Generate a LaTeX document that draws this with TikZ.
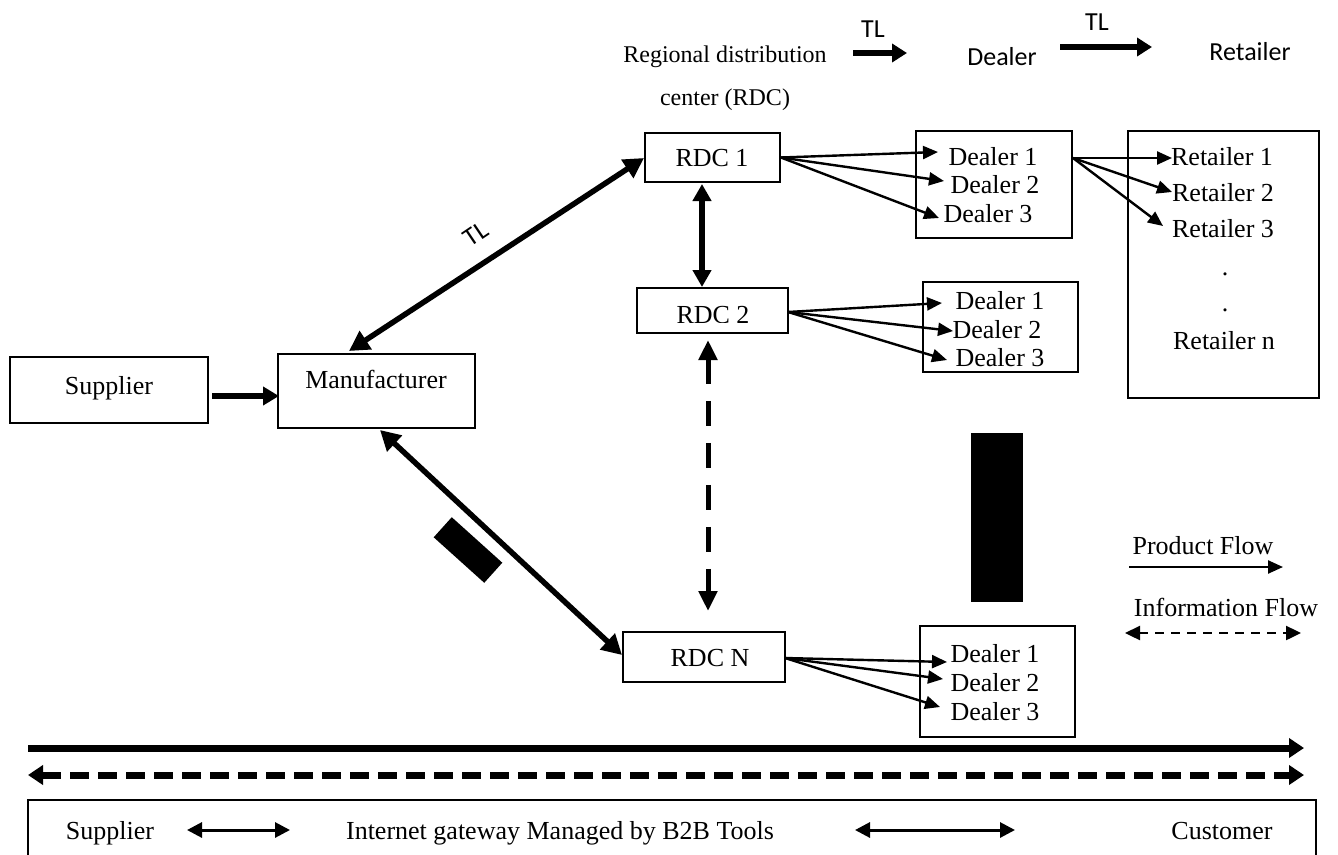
\documentclass[tikz,border=0pt]{standalone}
\usepackage{fontspec}
\setmainfont{Liberation Serif}
\newfontfamily\calib{Carlito}
\usetikzlibrary{arrows.meta}

\begin{document}
\begin{tikzpicture}[x=1pt,y=-1pt,
  box/.style={draw,line width=1.8pt,inner sep=0pt},
  txt/.style={inner sep=1pt,font=\fontsize{26}{31}\selectfont,text height=1.7ex,text depth=0.4ex,yshift=-5pt},
  ctxt/.style={inner sep=1pt,font=\calib\fontsize{26}{31}\selectfont},
  bigarrow/.style={line width=5.5pt,{Triangle[length=20pt,width=21pt]}-{Triangle[length=20pt,width=21pt]}},
  fan/.style={line width=2.4pt,-{Triangle[length=15pt,width=13pt]}},
  infodash/.style={line width=5pt,dash pattern=on 25pt off 17pt,{Triangle[length=20pt,width=18pt]}-{Triangle[length=20pt,width=18pt]}},
  blackout/.style={fill=black,inner sep=0pt}
]
\useasboundingbox (0,0) rectangle (1338,854);

% ---------- header legend ----------
\node[txt,font=\fontsize{24}{29}\selectfont] (rdcl1) at (725,55) {Regional distribution};
\node[txt,font=\fontsize{24}{29}\selectfont] (rdcl2) at (725,98) {center (RDC)};
\node[ctxt] (tla) at (873,29) {TL};
\node[ctxt] (hdeal) at (1002,57) {Dealer};
\node[ctxt] (tlb) at (1097,22) {TL};
\node[ctxt] (hret) at (1250,52) {Retailer};
\coordinate (ha1) at (853,53);  \coordinate (ha2) at (907,53);
\coordinate (hb1) at (1060,47); \coordinate (hb2) at (1152,47);
\draw[line width=6pt,-{Triangle[length=15pt,width=18pt]}] (ha1) -- (ha2);
\draw[line width=6pt,-{Triangle[length=15pt,width=18pt]}] (hb1) -- (hb2);

% ---------- boxes ----------
\node[box,minimum width=198pt,minimum height=66pt] (sup) at (109,390) {};
\node[txt] (suptxt) at (109,387) {Supplier};
\node[box,minimum width=197pt,minimum height=74pt] (man) at (376.5,391) {};
\node[txt] (mantxt) at (376,381) {Manufacturer};

\node[box,minimum width=135pt,minimum height=49pt] (rdc1) at (712.5,157.5) {};
\node[txt] (rdc1t) at (712,159) {RDC 1};
\node[box,minimum width=151pt,minimum height=45pt] (rdc2) at (712.5,310.5) {};
\begin{scope}
  \clip (638,289) rectangle (787,322);
  \node[txt] (rdc2t) at (713,316) {RDC 2};
\end{scope}
\node[box,minimum width=162pt,minimum height=50pt] (rdcn) at (704,657) {};
\node[txt] (rdcnt) at (710,659) {RDC N};

\node[box,minimum width=156pt,minimum height=107pt] (dbox1) at (994,184.5) {};
\node[txt] (d11) at (993,158) {Dealer 1};
\node[txt] (d12) at (995,186) {Dealer 2};
\node[txt] (d13) at (988,215) {Dealer 3};

\node[box,minimum width=155pt,minimum height=90pt] (dbox2) at (1000.5,327) {};
\node[txt] (d21) at (1000,302) {Dealer 1};
\node[txt] (d22) at (997,331) {Dealer 2};
\node[txt] (d23) at (1000,359) {Dealer 3};

\node[box,minimum width=155pt,minimum height=111pt] (dbox3) at (997.5,681.5) {};
\node[txt] (d31) at (995,655) {Dealer 1};
\node[txt] (d32) at (995,684) {Dealer 2};
\node[txt] (d33) at (995,713) {Dealer 3};

\node[box,minimum width=191pt,minimum height=267pt] (rbox) at (1223.5,264.5) {};
\node[txt] (r1) at (1222,158) {Retailer 1};
\node[txt] (r2) at (1223,194) {Retailer 2};
\node[txt] (r3) at (1223,230) {Retailer 3};
\node[txt] (rdot1) at (1225,268) {.};
\node[txt] (rdot2) at (1225,304) {.};
\node[txt] (rn) at (1224,342) {Retailer n};

% ---------- main flows ----------
\coordinate (mtop) at (349,351);
\coordinate (r1left) at (644,158);
\draw[bigarrow] (mtop) -- (r1left);
\node[ctxt,font=\calib\fontsize{26}{31}\selectfont,rotate=34] (tl) at (476,234) {TL};

\coordinate (mbot) at (380,430);
\coordinate (rnleft) at (622,655);
\draw[bigarrow] (mbot) -- (rnleft);
\node[blackout,minimum width=68pt,minimum height=27pt,rotate=-42] (blk1) at (468,550) {};

\coordinate (s1) at (212,396);
\coordinate (s2) at (279,396);
\draw[line width=6pt,-{Triangle[length=16pt,width=18pt]}] (s1) -- (s2);

\coordinate (v1) at (702,184);
\coordinate (v2) at (702,287);
\draw[line width=5.5pt,{Triangle[length=17pt,width=18pt]}-{Triangle[length=17pt,width=18pt]}] (v1) -- (v2);

\coordinate (w1) at (708,340);
\coordinate (w2) at (708,611);
\draw[infodash] (w1) -- (w2);

% ---------- dealer fans ----------
\coordinate (f11) at (938,152);
\coordinate (f12) at (944,181);
\coordinate (f13) at (939,218);
\draw[fan] (rdc1.east) -- (f11);
\draw[fan] (rdc1.east) -- (f12);
\draw[fan] (rdc1.east) -- (f13);

\coordinate (o2) at (788,312);
\coordinate (f21) at (942,303);
\coordinate (f22) at (953,331);
\coordinate (f23) at (947,360);
\draw[fan] (o2) -- (f21);
\draw[fan] (o2) -- (f22);
\draw[fan] (o2) -- (f23);

\coordinate (o3) at (785,658);
\coordinate (f31) at (947,662);
\coordinate (f32) at (943,679);
\coordinate (f33) at (940,707);
\draw[fan] (o3) -- (f31);
\draw[fan] (o3) -- (f32);
\draw[fan] (o3) -- (f33);

\coordinate (o4) at (1073,158);
\coordinate (g1) at (1172,158);
\coordinate (g2) at (1172,192);
\coordinate (g3) at (1163,226);
\draw[fan] (o4) -- (g1);
\draw[fan] (o4) -- (g2);
\draw[fan] (o4) -- (g3);

\node[blackout,minimum width=52pt,minimum height=169pt] (blk2) at (997,517.5) {};

% ---------- flow legend ----------
\node[txt] (pf) at (1203,547) {Product Flow};
\coordinate (pa1) at (1129,567); \coordinate (pa2) at (1283,567);
\draw[line width=2.4pt,-{Triangle[length=15pt,width=13pt]}] (pa1) -- (pa2);
\node[txt] (inf) at (1226,609) {Information Flow};
\coordinate (ia1) at (1125,633); \coordinate (ia2) at (1301,633);
\draw[line width=2.4pt,dash pattern=on 9pt off 7pt,{Triangle[length=15pt,width=14pt]}-{Triangle[length=15pt,width=14pt]}] (ia1) -- (ia2);

% ---------- B2B band ----------
\coordinate (b1) at (28,748); \coordinate (b2) at (1304,748);
\draw[line width=7pt,-{Triangle[length=15pt,width=19pt]}] (b1) -- (b2);
\coordinate (c1) at (28,775); \coordinate (c2) at (1304,775);
\draw[line width=7pt,dash pattern=on 19pt off 9pt,{Triangle[length=15pt,width=19pt]}-{Triangle[length=15pt,width=19pt]}] (c1) -- (c2);

\draw[line width=1.8pt] (28,870) -- (28,800) -- (1316,800) -- (1316,870);
\node[txt] (bsup) at (110,832) {Supplier};
\node[txt] (bgate) at (560,832) {Internet gateway Managed by B2B Tools};
\node[txt] (bcust) at (1222,832) {Customer};
\coordinate (e1) at (187,830); \coordinate (e2) at (290,830);
\coordinate (e3) at (855,830); \coordinate (e4) at (1015,830);
\draw[line width=3pt,{Triangle[length=15pt,width=15pt]}-{Triangle[length=15pt,width=15pt]}] (e1) -- (e2);
\draw[line width=3pt,{Triangle[length=15pt,width=15pt]}-{Triangle[length=15pt,width=15pt]}] (e3) -- (e4);
\end{tikzpicture}
\end{document}
